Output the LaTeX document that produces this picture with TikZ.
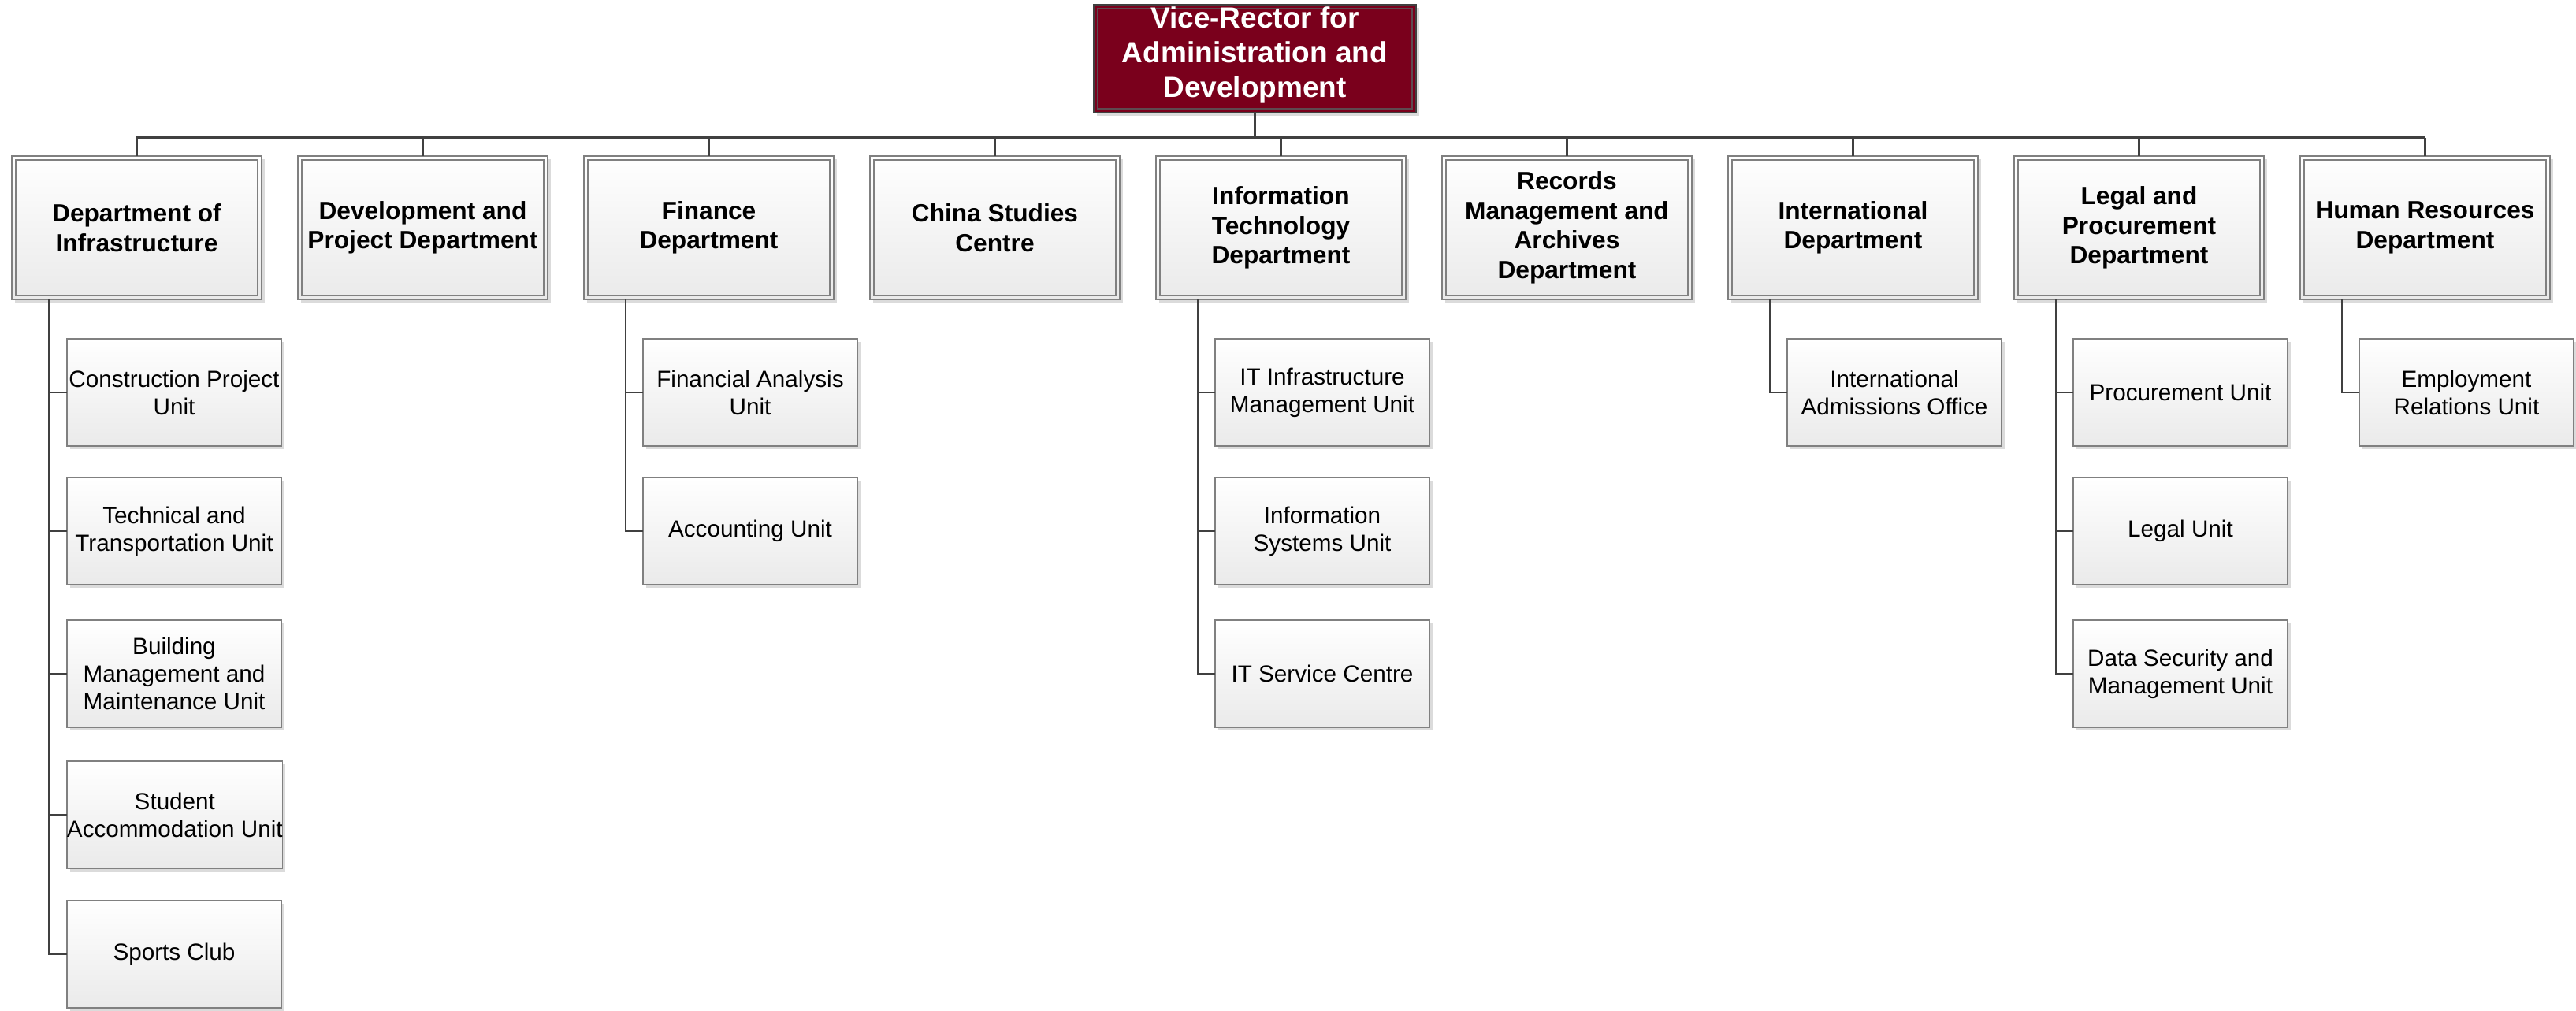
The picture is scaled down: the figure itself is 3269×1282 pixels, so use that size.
\documentclass[tikz,border=0pt]{standalone}
\usepackage{fontspec}
\setmainfont{Liberation Sans}
\usetikzlibrary{shadows}
\definecolor{vrred}{HTML}{7A001C}
\definecolor{vrinner}{HTML}{5E4A50}
\definecolor{conn}{HTML}{404040}
\definecolor{boxline}{HTML}{808080}
\definecolor{boxbot}{HTML}{EAEAEA}
\begin{document}
\begin{tikzpicture}[x=0.3pt,y=-0.3pt,
  every node/.style={inner sep=0pt, outer sep=0pt},
  shade/.style={drop shadow={shadow xshift=1.1pt, shadow yshift=-1.1pt, fill=black!14, opacity=1}},
  topbox/.style={anchor=north west, minimum width=122.7pt, minimum height=41.1pt,
    fill=vrred, draw=conn, line width=0.5pt, shade},
  toptext/.style={text=white, align=center, font=\fontsize{11.1}{13.2}\selectfont\bfseries},
  deptbox/.style={anchor=north west, minimum width=95.1pt, minimum height=54.6pt,
    draw=boxline, line width=0.45pt, top color=white, bottom color=boxbot, align=center,
    font=\fontsize{9.5}{11.25}\selectfont\bfseries, shade},
  unitbox/.style={anchor=north west, minimum width=81.6pt, minimum height=40.8pt,
    draw=boxline, line width=0.45pt, top color=white, bottom color=boxbot, align=center,
    font=\fontsize{8.9}{10.5}\selectfont, shade},
  bus/.style={draw=conn, line width=0.95pt},
  link/.style={draw=conn, line width=0.65pt}
]
\useasboundingbox (0,0) rectangle (3269,1282);

% top
\node[topbox] (vr) at (1388,6) {};
\draw[vrinner, line width=0.4pt] ([shift={(5,5)}]vr.north west) rectangle ([shift={(-5,-5)}]vr.south east);
\node[toptext] (vrt) at ([yshift=1.4pt]vr.center) {Vice-Rector for\\Administration and\\Development};

% departments
\node[deptbox] (d1) at (15,198)   {Department of\\Infrastructure};
\node[deptbox] (d2) at (378,198)  {Development and\\Project Department};
\node[deptbox] (d3) at (741,198)  {Finance\\Department};
\node[deptbox] (d4) at (1104,198) {China Studies\\Centre};
\node[deptbox] (d5) at (1467,198) {Information\\Technology\\Department};
\node[deptbox] (d6) at (1830,198) {Records\\Management and\\Archives\\Department};
\node[deptbox] (d7) at (2193,198) {International\\Department};
\node[deptbox] (d8) at (2556,198) {Legal and\\Procurement\\Department};
\node[deptbox] (d9) at (2919,198) {Human Resources\\Department};
\foreach \d in {d1,d2,d3,d4,d5,d6,d7,d8,d9}
  \draw[boxline, line width=0.4pt] ([shift={(5,5)}]\d.north west) rectangle ([shift={(-5,-5)}]\d.south east);

% units
\node[unitbox] (u11) at (85,430)  {Construction Project\\Unit};
\node[unitbox] (u12) at (85,606)  {Technical and\\Transportation Unit};
\node[unitbox] (u13) at (85,787)  {Building\\Management and\\Maintenance Unit};
\node[unitbox] (u14) at (85,966)  {Student\\Accommodation Unit};
\node[unitbox] (u15) at (85,1143) {Sports Club};

\node[unitbox] (u31) at (816,430) {Financial Analysis\\Unit};
\node[unitbox] (u32) at (816,606) {Accounting Unit};

\node[unitbox] (u51) at (1542,430) {IT Infrastructure\\Management Unit};
\node[unitbox] (u52) at (1542,606) {Information\\Systems Unit};
\node[unitbox] (u53) at (1542,787) {IT Service Centre};

\node[unitbox] (u71) at (2268,430) {International\\Admissions Office};

\node[unitbox] (u81) at (2631,430) {Procurement Unit};
\node[unitbox] (u82) at (2631,606) {Legal Unit};
\node[unitbox] (u83) at (2631,787) {Data Security and\\Management Unit};

\node[unitbox] (u91) at (2994,430) {Employment\\Relations Unit};

% connectors
\coordinate (busy) at (0,175);
\draw[bus] (vr.south) -- (vr.south |- busy);
\draw[bus] (d1.north |- busy) -- (d9.north |- busy);
\foreach \d in {d1,d2,d3,d4,d5,d6,d7,d8,d9}
  \draw[link] (\d.north |- busy) -- (\d.north);

\coordinate (s1) at (62,0);
\coordinate (s3) at (794,0);
\coordinate (s5) at (1520,0);
\coordinate (s7) at (2246,0);
\coordinate (s8) at (2609,0);
\coordinate (s9) at (2972,0);
\foreach \u in {u11,u12,u13,u14,u15} \draw[link] (d1.south -| s1) |- (\u.west);
\foreach \u in {u31,u32} \draw[link] (d3.south -| s3) |- (\u.west);
\foreach \u in {u51,u52,u53} \draw[link] (d5.south -| s5) |- (\u.west);
\draw[link] (d7.south -| s7) |- (u71.west);
\foreach \u in {u81,u82,u83} \draw[link] (d8.south -| s8) |- (\u.west);
\draw[link] (d9.south -| s9) |- (u91.west);
\end{tikzpicture}
\end{document}
